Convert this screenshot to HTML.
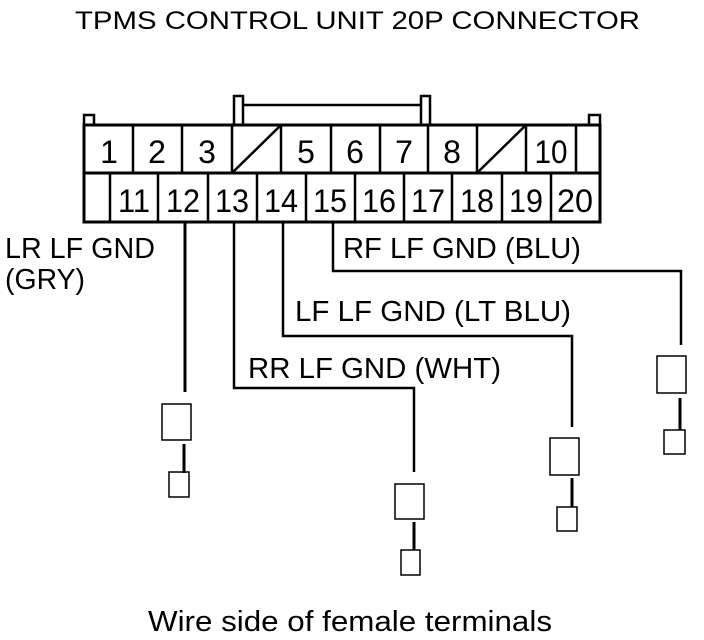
<!DOCTYPE html>
<html><head><meta charset="utf-8"><style>
html,body{margin:0;padding:0;background:#fff;}
svg{display:block;}
text{font-family:"Liberation Sans",Arial,sans-serif;fill:#000;}
</style></head><body>
<svg width="704" height="640" viewBox="0 0 704 640" xmlns="http://www.w3.org/2000/svg">
<text x="75" y="29" font-size="25" textLength="565" lengthAdjust="spacingAndGlyphs">TPMS CONTROL UNIT 20P CONNECTOR</text>
<g fill="none" stroke="#000" stroke-width="2.5">
<rect x="84" y="115" width="10" height="10" fill="#fff"/>
<rect x="589" y="115" width="11" height="10" fill="#fff"/>
<rect x="234" y="96" width="9" height="29"/>
<rect x="421" y="96" width="9" height="29"/>
<line x1="243" y1="105" x2="421" y2="105"/>
<rect x="84" y="125" width="516" height="97" stroke-width="3"/>
<line x1="84" y1="173" x2="600" y2="173" stroke-width="3"/>
<path d="M133 125V173M182 125V173M232 125V173M281 125V173M331 125V173M380 125V173M428 125V173M477 125V173M526 125V173M576 125V173"/>
<path d="M110 173V222M158 173V222M208 173V222M257 173V222M306 173V222M355 173V222M404 173V222M452 173V222M502 173V222M551 173V222"/>
<line x1="233" y1="172" x2="280" y2="126"/>
<line x1="478" y1="172" x2="525" y2="126"/>
<path d="M185 222V392" stroke-width="3"/>
<path d="M234 222V388H414V472"/>
<path d="M283 222V336H572V427"/>
<path d="M333 222V271H681V345"/>
<rect x="162" y="404" width="29" height="36" stroke-width="1.5"/>
<path d="M184 444V473" stroke-width="3"/>
<rect x="169" y="472" width="20" height="25" stroke-width="1.5"/>
<rect x="395" y="484" width="29" height="35" stroke-width="1.5"/>
<path d="M414 522V550" stroke-width="3"/>
<rect x="401" y="550" width="19" height="25" stroke-width="1.5"/>
<rect x="550" y="438" width="29" height="37" stroke-width="1.5"/>
<path d="M572 478V507" stroke-width="3"/>
<rect x="557" y="507" width="20" height="24" stroke-width="1.5"/>
<rect x="657" y="356" width="29" height="37" stroke-width="1.5"/>
<path d="M680 398V430" stroke-width="3"/>
<rect x="664" y="430" width="21" height="24" stroke-width="1.5"/>
</g>
<g font-size="32" text-anchor="middle">
<text x="109" y="163">1</text><text x="157" y="163">2</text><text x="207" y="163">3</text>
<text x="306" y="163">5</text><text x="355" y="163">6</text><text x="404" y="163">7</text>
<text x="452" y="163">8</text><text x="551" y="163" textLength="33" lengthAdjust="spacingAndGlyphs">10</text>
<text x="134" y="212" textLength="32" lengthAdjust="spacingAndGlyphs">11</text>
<text x="183" y="212" textLength="34" lengthAdjust="spacingAndGlyphs">12</text>
<text x="232" y="212" textLength="34" lengthAdjust="spacingAndGlyphs">13</text>
<text x="281" y="212" textLength="34" lengthAdjust="spacingAndGlyphs">14</text>
<text x="330" y="212" textLength="34" lengthAdjust="spacingAndGlyphs">15</text>
<text x="379" y="212" textLength="34" lengthAdjust="spacingAndGlyphs">16</text>
<text x="428" y="212" textLength="34" lengthAdjust="spacingAndGlyphs">17</text>
<text x="477" y="212" textLength="34" lengthAdjust="spacingAndGlyphs">18</text>
<text x="526" y="212" textLength="34" lengthAdjust="spacingAndGlyphs">19</text>
<text x="575" y="212" textLength="36" lengthAdjust="spacingAndGlyphs">20</text>
</g>
<g font-size="29">
<text x="5" y="258" textLength="150" lengthAdjust="spacingAndGlyphs">LR LF GND</text>
<text x="5" y="289" textLength="80" lengthAdjust="spacingAndGlyphs">(GRY)</text>
<text x="343" y="258" textLength="238" lengthAdjust="spacingAndGlyphs">RF LF GND (BLU)</text>
<text x="295" y="321" textLength="276" lengthAdjust="spacingAndGlyphs">LF LF GND (LT BLU)</text>
<text x="248" y="378" textLength="253" lengthAdjust="spacingAndGlyphs">RR LF GND (WHT)</text>
<text x="148" y="631" textLength="404" lengthAdjust="spacingAndGlyphs">Wire side of female terminals</text>
</g>
</svg>
</body></html>
